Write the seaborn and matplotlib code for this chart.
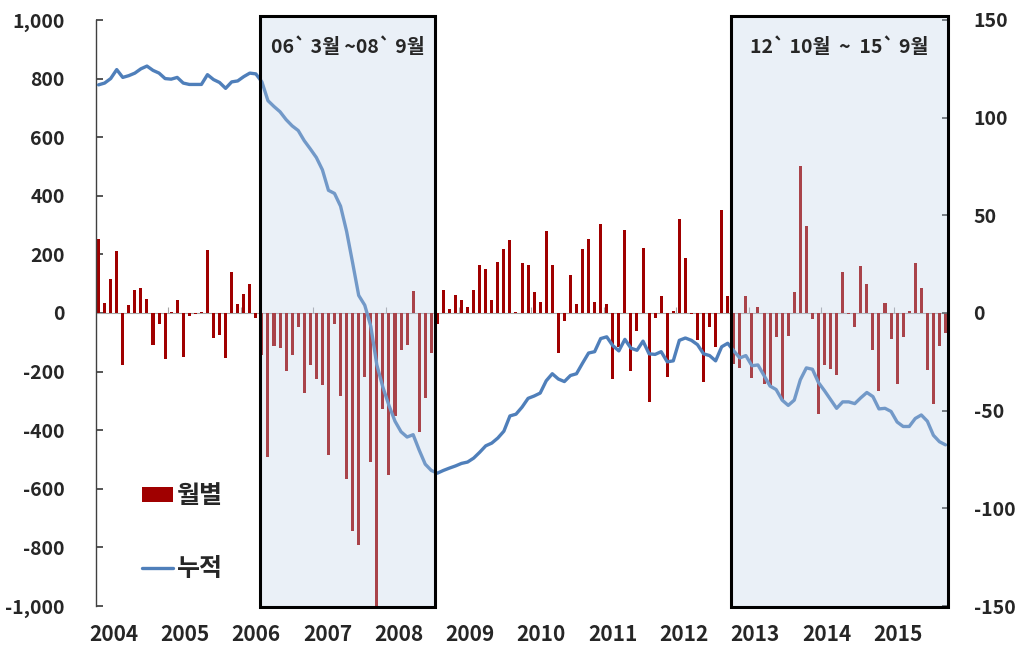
import numpy as np
import pandas as pd
import matplotlib
matplotlib.use("Agg")
import matplotlib.pyplot as plt
import seaborn as sns
from matplotlib.patches import Rectangle, Patch
from matplotlib.lines import Line2D
from matplotlib.transforms import blended_transform_factory

# ==========================================
# Data
# ==========================================

months = pd.period_range("2004-01", "2015-09", freq="M").strftime("%Y-%m")

# monthly flow (left axis)
monthly = [
    251, 35, 117, 210, -177, 26, 78, 86, 47, -108, -36, -157,          # 2004
    3, 43, -150, -10, -3, 5, 216, -85, -75, -152, 140, 30,             # 2005
    65, 98, -18, -145, -492, -111, -121, -199, -145, -49, -273, -177,  # 2006
    -225, -246, -483, -36, -282, -567, -743, -792, -219, -509, -1000, -327,  # 2007
    -552, -353, -127, -109, 74, -405, -289, -135, -37, 77, 14, 62,     # 2008
    43, 20, 77, 164, 150, 43, 174, 220, 248, 5, 172, 164,              # 2009
    72, 38, 280, 164, -135, -28, 131, 30, 218, 253, 38, 304,           # 2010
    29, -225, -115, 283, -199, -60, 222, -303, -16, 59, -219, 7,       # 2011
    322, 188, -5, -93, -235, -49, -115, 352, 59, -174, -187, 59,       # 2012
    -223, 20, -241, -247, -81, -297, -79, 72, 503, 298, -19, -345,     # 2013
    -177, -192, -210, 140, -2, -48, 161, 98, -125, -265, 35, -90,      # 2014
    -243, -81, 7, 172, 84, -194, -309, -114, -69,                      # 2015
]

# cumulative (right axis)
cumulative = [
    116.8, 117.7, 120.0, 124.6, 120.6, 121.5, 122.8, 125.0, 126.4, 124.2, 122.8, 120.0,
    119.7, 120.6, 117.7, 117.0, 117.0, 117.0, 122.0, 119.5, 118.0, 115.0, 118.3, 118.8,
    121.0, 122.8, 122.4, 118.3, 108.7, 105.7, 103.0, 99.0, 95.8, 93.4, 88.2, 84.0,
    79.6, 73.3, 62.8, 61.2, 54.7, 41.8, 25.6, 9.0, 4.0, -6.8, -26.6, -38.0,
    -47.3, -55.4, -60.8, -63.5, -62.3, -70.2, -77.4, -80.6, -82.0, -80.6, -79.4, -78.3,
    -77.0, -76.3, -74.3, -71.3, -68.0, -66.6, -64.0, -60.5, -52.7, -51.8, -48.2, -43.7,
    -42.5, -41.0, -34.7, -31.1, -33.8, -35.1, -32.0, -31.1, -25.7, -20.5, -19.8, -13.1,
    -12.2, -16.7, -19.4, -13.5, -18.0, -19.1, -14.4, -20.9, -21.2, -19.8, -25.0, -24.5,
    -14.0, -12.8, -14.0, -16.2, -20.9, -21.8, -24.5, -17.3, -15.5, -19.4, -23.0, -21.8,
    -27.0, -26.6, -32.0, -37.4, -39.2, -44.6, -47.3, -44.6, -34.2, -28.1, -28.8, -35.6,
    -39.8, -44.3, -48.8, -45.5, -45.5, -46.4, -43.4, -40.7, -42.8, -49.1, -48.8, -50.4,
    -55.8, -58.1, -58.1, -54.0, -52.2, -55.4, -62.6, -65.9, -67.5,
]

year_labels = [str(y) for y in range(2004, 2016)]
period_labels = ["06` 3월 ~08` 9월", "12` 10월  ~  15` 9월"]
legend_labels = ["월별", "누적"]

df = pd.DataFrame({"month": months, "monthly": monthly, "cumulative": cumulative})
df["pos"] = np.arange(len(df))

# ==========================================
# Style
# ==========================================

bar_red = "#a00000"
line_blue = "#4f7fba"
grey = "#a6a6a6"

sns.set_theme(style="white")
plt.rcParams["font.family"] = ["Noto Sans CJK KR", "DejaVu Sans"]

fig = plt.figure(figsize=(10.24, 6.55), dpi=100)
ax = fig.add_axes([0.0933, 0.0748, 0.833, 0.8947])
ax2 = ax.twinx()

# ==========================================
# Bars (monthly) and line (cumulative)
# ==========================================

sns.barplot(data=df, x="month", y="monthly", color=bar_red, saturation=1,
            width=0.5, linewidth=0, errorbar=None, ax=ax, zorder=2)
ax.axhline(0, color=grey, lw=0.8, zorder=1)
year_edges = np.arange(12, len(df), 12) - 0.5
ax.vlines(year_edges, 0, 20, color=grey, lw=0.8, zorder=1)

sns.lineplot(data=df, x="pos", y="cumulative", color=line_blue, lw=2.4,
             ax=ax2, zorder=2)

# ==========================================
# Axes
# ==========================================

ax.set_xlim(-0.5, len(df) - 0.5)
ax.set_ylim(-1000, 1000)
left_ticks = np.arange(-1000, 1001, 200)
ax.set_yticks(left_ticks)
ax.set_yticklabels([f"{v:,}" for v in left_ticks], fontsize=14, fontweight="bold")
ax.tick_params(axis="y", direction="in", length=5, pad=22, color="#404040")

label_pos = 2.45 + 11.79 * np.arange(len(year_labels))
ax.set_xticks(label_pos)
ax.set_xticklabels(year_labels, fontsize=15, fontweight="bold")
ax.tick_params(axis="x", length=0, pad=13)
ax.set_xlabel("")
ax.set_ylabel("")

ax2.set_ylim(-150, 150)
right_ticks = np.arange(-150, 151, 50)
ax2.set_yticks(right_ticks)
ax2.set_yticklabels([str(v) for v in right_ticks], fontsize=14, fontweight="bold")
ax2.tick_params(axis="y", direction="in", length=5, pad=18, color="#404040")
ax2.set_ylabel("")
ax2.set_xlim(-0.5, len(df) - 0.5)

for a in (ax, ax2):
    a.spines["top"].set_visible(False)
    a.spines["bottom"].set_visible(False)
ax.spines["left"].set_color("#404040")
ax.spines["left"].set_linewidth(1)
ax.spines["right"].set_visible(False)
ax2.spines["left"].set_visible(False)
ax2.spines["right"].set_color("#404040")

# ==========================================
# Highlighted periods
# ==========================================

trans = blended_transform_factory(ax2.transData, ax2.transAxes)
period_spans = [(26.7, 55.6), (104.5, 140.4)]
for (x0, x1), text in zip(period_spans, period_labels):
    ax2.add_patch(Rectangle((x0, -0.002), x1 - x0, 1.009, transform=trans,
                            facecolor=(0.75, 0.82, 0.91, 0.32), edgecolor="black",
                            lw=2.2, clip_on=False, zorder=3))
    ax2.text((x0 + x1) / 2, 0.953, text, transform=trans, ha="center",
             va="center", fontsize=14, fontweight="bold", zorder=4)

# ==========================================
# Legend
# ==========================================

handles = [Patch(facecolor=bar_red, edgecolor="none"),
           Line2D([], [], color=line_blue, lw=2.4)]
ax2.legend(handles, legend_labels, loc="upper left",
           bbox_to_anchor=(142 / 1024, 1 - 484 / 655),
           bbox_transform=fig.transFigure, frameon=False,
           prop={"size": 18, "weight": "bold"}, handlelength=1.25,
           handleheight=0.55, handletextpad=0.15, labelspacing=1.95,
           borderpad=0, borderaxespad=0)

fig.savefig("out.png", dpi=100, facecolor="white")
